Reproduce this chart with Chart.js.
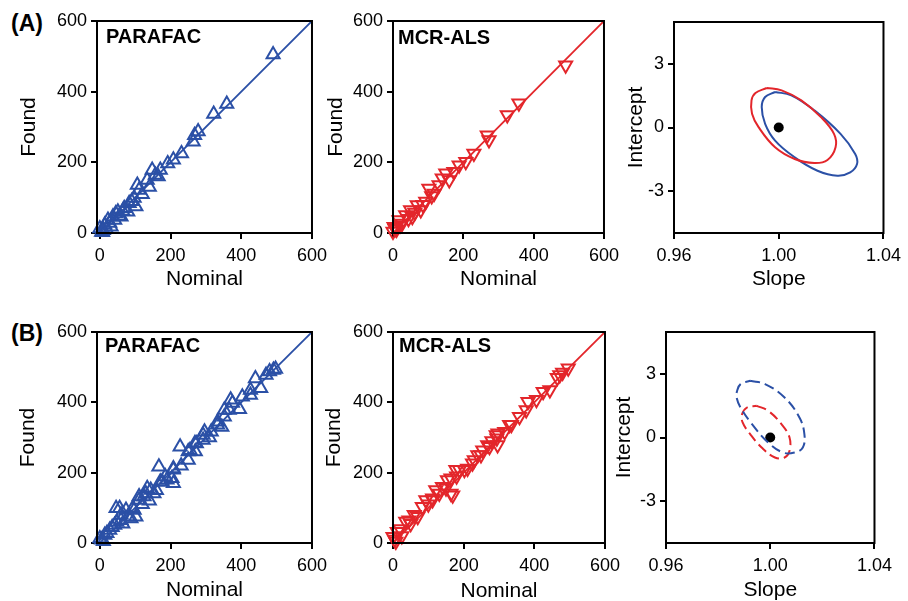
<!DOCTYPE html>
<html>
<head>
<meta charset="utf-8">
<script src="https://cdn.jsdelivr.net/npm/chart.js@4.4.0/dist/chart.umd.min.js"></script>
<style>
  html, body { margin: 0; padding: 0; background: #fff; overflow: hidden; }
  #wrap { position: relative; width: 908px; height: 601px; font-family: "Liberation Sans", Arial, sans-serif; }
  .panel { position: absolute; }
  .tag { position: absolute; font-weight: bold; font-size: 23px; line-height: 23px; }
</style>
</head>
<body>
<div id="wrap">
  <div class="tag" style="left:11px; top:12px">(A)</div>
  <div class="tag" style="left:11px; top:322px">(B)</div>
</div>
<script>
// ---- data ----
const nominalTicks = [0, 200, 400, 600];
const foundTicks = [0, 200, 400, 600];
const slopeTicks = [0.96, 1.00, 1.04];
const interceptTicks = [-3, 0, 3];

const fitNominal = [0, 600];
const fitFound = [0, 600];

// (A) PARAFAC
const a1Nominal = [490, 359, 322, 278, 268, 264, 231, 208, 192, 171, 157, 148, 134, 106, 111, 97, 102, 83, 69, 51, 37, 23, 14, 0, 42, 60, 79, 32, 5, 10, 18, 45, 55, 90, 120, 165, 140, 65, 28, 8];
const a1Found   = [505, 365, 337, 287, 277, 258, 225, 207, 197, 178, 164, 178, 150, 136, 122, 99, 75, 84, 70, 60, 46, 37, 23, 13, 37, 46, 60, 18, 3, 8, 12, 55, 48, 90, 110, 160, 130, 62, 28, 2];
// (A) MCR-ALS
const a2Nominal = [491, 358, 325, 268, 273, 230, 207, 188, 173, 150, 140, 131, 102, 117, 93, 69, 50, 36, 17, 3, 0, 26, 55, 79, 10, 20, 44, 62, 85, 110, 160, 6];
const a2Found   = [475, 367, 334, 277, 263, 225, 202, 192, 173, 169, 155, 136, 126, 112, 89, 79, 65, 51, 37, 18, 4, 27, 46, 65, 10, 22, 40, 58, 80, 105, 150, 12];

// (B) PARAFAC
const b1Nominal = [497, 491, 480, 470, 440, 426, 426, 403, 375, 370, 366, 352, 352, 333, 333, 315, 296, 292, 292, 273, 269, 255, 250, 250, 227, 208, 208, 204, 208, 185, 176, 171, 167, 153, 144, 134, 130, 125, 111, 111, 97, 93, 102, 88, 74, 60, 60, 56, 46, 42, 28, 14, 5, 0, 20, 35, 10, 48, 65, 80, 120, 140, 160, 190, 230, 270, 310, 345, 395, 455];
const b1Found   = [495, 492, 488, 478, 468, 435, 421, 416, 398, 407, 378, 378, 359, 345, 336, 316, 316, 307, 293, 283, 284, 264, 260, 236, 274, 212, 208, 184, 170, 189, 174, 174, 217, 141, 151, 156, 141, 132, 132, 122, 94, 99, 75, 70, 94, 80, 65, 99, 99, 51, 37, 23, 9, 13, 28, 45, 5, 60, 55, 75, 110, 120, 150, 180, 220, 260, 300, 330, 380, 440];
// (B) MCR-ALS
const b2Nominal = [496, 480, 472, 465, 444, 425, 406, 382, 377, 358, 335, 330, 316, 297, 292, 294, 296, 273, 268, 254, 249, 230, 225, 211, 202, 188, 178, 164, 154, 150, 169, 164, 131, 121, 112, 112, 93, 83, 60, 45, 36, 12, 0, 8, 20, 25, 50, 70, 100, 140, 180, 240, 280, 5];
const b2Found   = [497, 485, 478, 470, 435, 430, 407, 402, 378, 359, 336, 336, 316, 312, 307, 298, 279, 274, 279, 264, 250, 236, 227, 212, 208, 208, 208, 184, 179, 156, 136, 141, 141, 151, 122, 127, 122, 103, 80, 65, 61, 32, 18, 4, 40, 20, 55, 75, 110, 160, 190, 250, 290, 10];

// joint confidence regions (slope, intercept) traced around each outline
const eaBlueSlope     = [0.9986, 1.0048, 1.0136, 1.0236, 1.0292, 1.0299, 1.0273, 1.0224, 1.0148, 1.0061, 0.9986, 0.9948, 0.9935, 0.9948];
const eaBlueIntercept = [1.683, 1.524, 0.810, -0.302, -1.254, -1.730, -2.127, -2.286, -2.048, -1.413, -0.619, 0.175, 0.968, 1.444];
const eaRedSlope      = [0.9954, 1.0011, 1.0086, 1.0161, 1.0211, 1.0217, 1.0186, 1.0136, 1.0061, 0.9986, 0.9923, 0.9898, 0.9896, 0.9911];
const eaRedIntercept  = [1.873, 1.762, 1.286, 0.492, -0.302, -0.937, -1.540, -1.683, -1.492, -0.937, 0.016, 0.651, 1.286, 1.635];

const ebBlueSlope     = [0.9923, 0.9980, 1.0055, 1.0112, 1.0131, 1.0125, 1.0093, 1.0049, 0.9992, 0.9930, 0.9886, 0.9871, 0.9873, 0.9886];
const ebBlueIntercept = [2.687, 2.531, 1.896, 0.948, 0.161, -0.474, -0.711, -0.711, -0.237, 0.635, 1.422, 1.896, 2.213, 2.531];
const ebRedSlope      = [0.9948, 0.9992, 1.0043, 1.0074, 1.0074, 1.0055, 1.0018, 0.9967, 0.9923, 0.9894, 0.9892, 0.9911];
const ebRedIntercept  = [1.502, 1.265, 0.635, 0.000, -0.630, -0.948, -0.948, -0.474, 0.161, 0.711, 1.109, 1.422];

const idealSlope = [1.00];
const idealIntercept = [0];

// ---- styling ----
const BLUE = '#2b50a6';
const RED = '#e3262b';
const FONT = '"Liberation Sans", Arial, Helvetica, sans-serif';
Chart.defaults.font.family = FONT;
Chart.defaults.color = '#000';

function toPoints(xs, ys) {
    return xs.map((x, i) => ({ x: x, y: ys[i] }));
}
function closed(xs, ys) {
    const pts = toPoints(xs, ys);
    pts.push({ x: xs[0], y: ys[0] });
    return pts;
}

const framePlugin = {
    id: 'frame',
    afterDatasetsDraw(chart) {
        const { ctx, chartArea: a } = chart;
        ctx.save();
        ctx.strokeStyle = '#000';
        ctx.lineWidth = 2;
        ctx.strokeRect(a.left, a.top, a.right - a.left, a.bottom - a.top);
        ctx.restore();
    }
};
const labelPlugin = {
    id: 'panelLabel',
    afterDraw(chart, args, opts) {
        if (!opts.text) return;
        const { ctx, chartArea: a } = chart;
        ctx.save();
        ctx.font = 'bold 20px ' + FONT;
        ctx.fillStyle = '#000';
        ctx.textBaseline = 'middle';
        ctx.fillText(opts.text, a.left + opts.dx, a.top + opts.dy);
        ctx.restore();
    }
};
Chart.register(framePlugin, labelPlugin);

function scatterSet(xs, ys, color, rotation) {
    return {
        data: toPoints(xs, ys),
        pointStyle: 'triangle',
        pointRotation: rotation,
        pointRadius: 7.5,
        pointBorderWidth: 2,
        pointBorderColor: color,
        pointBackgroundColor: 'rgba(0,0,0,0)',
        showLine: false,
        clip: false
    };
}
function lineSet(xs, ys, color) {
    return {
        data: toPoints(xs, ys),
        showLine: true,
        pointRadius: 0,
        borderColor: color,
        borderWidth: 1.8
    };
}
function ellipseSet(xs, ys, color, dashed) {
    return {
        data: closed(xs, ys),
        showLine: true,
        pointRadius: 0,
        borderColor: color,
        borderWidth: 2,
        tension: 0.4,
        borderDash: dashed ? [10, 5] : []
    };
}
function dotSet() {
    return {
        data: toPoints(idealSlope, idealIntercept),
        pointRadius: 5,
        pointBorderWidth: 0,
        pointBackgroundColor: '#000',
        showLine: false
    };
}

function axis(min, max, ticks, title, fmt, fit) {
    return {
        type: 'linear',
        min: min,
        max: max,
        afterBuildTicks: s => { s.ticks = ticks.map(v => ({ value: v })); },
        afterFit: fit,
        grid: { drawOnChartArea: false, drawTicks: true, tickLength: 6, color: '#000', lineWidth: 2 },
        border: { display: false },
        ticks: { font: { size: 18 }, color: '#000', padding: 4, autoSkip: false, maxRotation: 0, callback: fmt },
        title: { display: true, text: title, font: { size: 21 }, color: '#000', padding: 0 }
    };
}

function makePanel(p) {
    const left = Math.round(p.yTitleX - 12.6);
    const top = p.T - 15;
    const width = p.R + 20 - left;
    const height = Math.round(p.xTitleY + 12.6) - top;

    const canvas = document.createElement('canvas');
    canvas.className = 'panel';
    canvas.width = width;
    canvas.height = height;
    canvas.style.left = left + 'px';
    canvas.style.top = top + 'px';
    canvas.style.width = width + 'px';
    canvas.style.height = height + 'px';
    document.getElementById('wrap').appendChild(canvas);

    const xAxis = axis(p.xMin, p.xMax, p.xTicks, p.xTitle, p.xFmt, s => { s.height = top + height - p.B; });
    xAxis.ticks.padding = 6;
    const yAxis = axis(p.yMin, p.yMax, p.yTicks, p.yTitle, p.yFmt, s => { s.width = p.L - left; });

    new Chart(canvas, {
        type: 'scatter',
        data: { datasets: p.datasets },
        options: {
            responsive: false,
            animation: false,
            layout: { padding: { left: 0, top: 15, right: 20, bottom: 0 } },
            plugins: {
                legend: { display: false },
                tooltip: { enabled: false },
                panelLabel: p.label || {}
            },
            scales: { x: xAxis, y: yAxis }
        }
    });
}

const intFmt = v => String(v);
const slopeFmt = v => v.toFixed(2);

document.addEventListener('DOMContentLoaded', function () {
    // row A
    makePanel({ L: 97, T: 21, R: 313, B: 233, yTitleX: 30, xTitleY: 279,
        xMin: -8, xMax: 600, yMin: 0, yMax: 600, xTicks: nominalTicks, yTicks: foundTicks,
        xTitle: 'Nominal', yTitle: 'Found', xFmt: intFmt, yFmt: intFmt,
        label: { text: 'PARAFAC', dx: 9, dy: 16 },
        datasets: [lineSet(fitNominal, fitFound, BLUE), scatterSet(a1Nominal, a1Found, BLUE, 0)] });
    makePanel({ L: 393, T: 21, R: 605, B: 233, yTitleX: 337, xTitleY: 279,
        xMin: 0, xMax: 600, yMin: 0, yMax: 600, xTicks: nominalTicks, yTicks: foundTicks,
        xTitle: 'Nominal', yTitle: 'Found', xFmt: intFmt, yFmt: intFmt,
        label: { text: 'MCR-ALS', dx: 5, dy: 17 },
        datasets: [lineSet(fitNominal, fitFound, RED), scatterSet(a2Nominal, a2Found, RED, 180)] });
    makePanel({ L: 674, T: 22, R: 887, B: 233, yTitleX: 637, xTitleY: 279,
        xMin: 0.96, xMax: 1.04, yMin: -5, yMax: 5, xTicks: slopeTicks, yTicks: interceptTicks,
        xTitle: 'Slope', yTitle: 'Intercept', xFmt: slopeFmt, yFmt: intFmt,
        datasets: [ellipseSet(eaRedSlope, eaRedIntercept, RED, false), ellipseSet(eaBlueSlope, eaBlueIntercept, BLUE, false), dotSet()] });

    // row B
    makePanel({ L: 97, T: 332, R: 313, B: 543, yTitleX: 28.5, xTitleY: 590,
        xMin: -8, xMax: 600, yMin: 0, yMax: 600, xTicks: nominalTicks, yTicks: foundTicks,
        xTitle: 'Nominal', yTitle: 'Found', xFmt: intFmt, yFmt: intFmt,
        label: { text: 'PARAFAC', dx: 8, dy: 14 },
        datasets: [lineSet(fitNominal, fitFound, BLUE), scatterSet(b1Nominal, b1Found, BLUE, 0)] });
    makePanel({ L: 393, T: 332, R: 606, B: 543, yTitleX: 335, xTitleY: 591,
        xMin: 0, xMax: 600, yMin: 0, yMax: 600, xTicks: nominalTicks, yTicks: foundTicks,
        xTitle: 'Nominal', yTitle: 'Found', xFmt: intFmt, yFmt: intFmt,
        label: { text: 'MCR-ALS', dx: 6, dy: 14 },
        datasets: [lineSet(fitNominal, fitFound, RED), scatterSet(b2Nominal, b2Found, RED, 180)] });
    makePanel({ L: 666, T: 332, R: 878, B: 543, yTitleX: 625, xTitleY: 590,
        xMin: 0.96, xMax: 1.04, yMin: -5, yMax: 5, xTicks: slopeTicks, yTicks: interceptTicks,
        xTitle: 'Slope', yTitle: 'Intercept', xFmt: slopeFmt, yFmt: intFmt,
        datasets: [ellipseSet(ebBlueSlope, ebBlueIntercept, BLUE, true), ellipseSet(ebRedSlope, ebRedIntercept, RED, true), dotSet()] });
});
</script>
</body>
</html>
